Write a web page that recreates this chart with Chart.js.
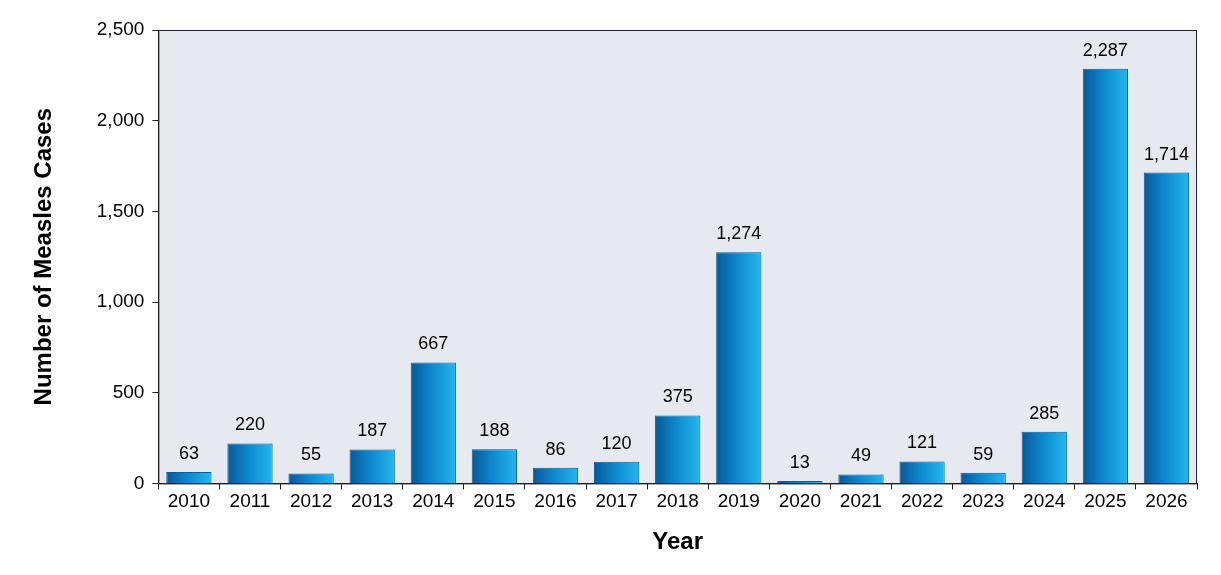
<!DOCTYPE html>
<html><head><meta charset="utf-8">
<script src="https://cdn.jsdelivr.net/npm/chart.js@4"></script>
<style>html,body{margin:0;background:#fff}#wrap{width:1221px;height:575px}</style>
</head><body><div id="wrap"><canvas id="c"></canvas></div>
<script>
const years = ["2010","2011","2012","2013","2014","2015","2016","2017","2018","2019","2020","2021","2022","2023","2024","2025","2026"];
const cases = [63,220,55,187,667,188,86,120,375,1274,13,49,121,59,285,2287,1714];
const yTicks = [0,500,1000,1500,2000,2500];
const FONT = "Arial, 'Liberation Sans'";

const plotBg = {
  id: "plotBg",
  beforeDraw(chart){
    const {ctx, chartArea:a} = chart;
    ctx.save(); ctx.fillStyle = "#e6e9f0";
    ctx.fillRect(a.left, a.top, a.right-a.left, a.bottom-a.top);
    ctx.restore();
  },
  afterDraw(chart){
    const {ctx, chartArea:a} = chart;
    ctx.save(); ctx.strokeStyle = "#222"; ctx.lineWidth = 1;
    ctx.strokeRect(a.left+0.5, a.top+0.5, a.right-a.left-1, a.bottom-a.top);
    ctx.font = "18px " + FONT; ctx.fillStyle = "#000";
    ctx.textAlign = "center"; ctx.textBaseline = "bottom";
    const meta = chart.getDatasetMeta(0);
    meta.data.forEach((b,i) => ctx.fillText(cases[i].toLocaleString("en-US"), b.x, b.y - 9));
    ctx.restore();
  }
};

function grad(ctx){
  const xs = ctx.chart.scales && ctx.chart.scales.x;
  if(!xs || !xs.width) return "#0e8fd0";
  const cx = xs.getPixelForValue(ctx.dataIndex);
  const w = xs.width / years.length * 0.95 * 0.78;
  const g = ctx.chart.ctx.createLinearGradient(cx - w/2, 0, cx + w/2, 0);
  g.addColorStop(0, "#065898"); g.addColorStop(0.45, "#0c88cc"); g.addColorStop(1, "#25b6f0");
  return g;
}

new Chart(document.getElementById("c"), {
  type: "bar",
  data: { labels: years, datasets: [{ data: cases, backgroundColor: grad, borderColor: "#0a5f95", borderWidth: 1, categoryPercentage: 0.95, barPercentage: 0.78 }] },
  options: {
    responsive: true, maintainAspectRatio: false, animation: false,
    layout: { padding: { top: 30, right: 24, left: 26, bottom: 14 } },
    plugins: { legend: { display: false }, tooltip: { enabled: false } },
    scales: {
      x: {
        grid: { display: true, drawOnChartArea: false, offset: true, color: "#222", tickLength: 6 },
        border: { color: "#222" },
        ticks: { color: "#000", font: { size: 19, family: FONT }, padding: 1 },
        title: { display: true, text: "Year", color: "#000", font: { size: 24, weight: "bold", family: FONT }, padding: { top: 14 } }
      },
      y: {
        min: 0, max: 2500,
        afterBuildTicks(s){ s.ticks = yTicks.map(v => ({ value: v })); },
        grid: { display: true, drawOnChartArea: false, color: "#222", tickLength: 6 },
        border: { color: "#222" },
        ticks: { color: "#000", font: { size: 19, family: FONT }, padding: 8, callback: v => v.toLocaleString("en-US") },
        title: { display: true, text: "Number of Measles Cases", color: "#000", font: { size: 24, weight: "bold", family: FONT }, padding: { bottom: 30 } }
      }
    }
  },
  plugins: [plotBg]
});
</script></body></html>
